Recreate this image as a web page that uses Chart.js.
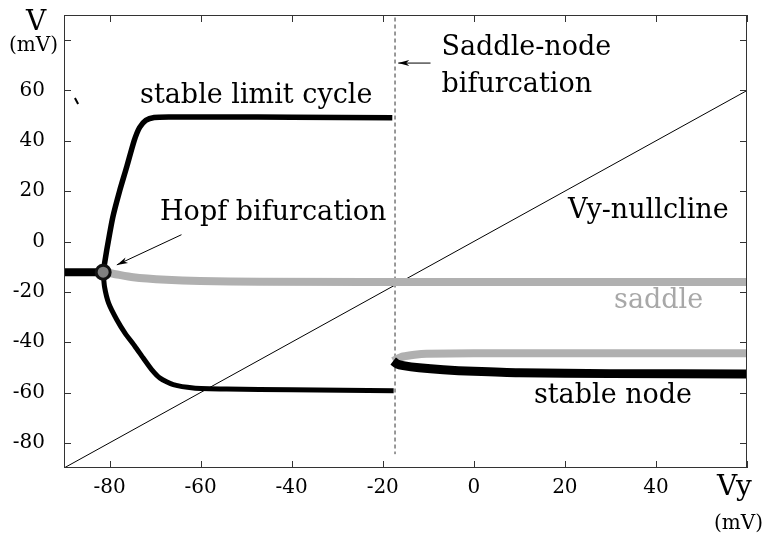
<!DOCTYPE html>
<html>
<head>
<meta charset="utf-8">
<script src="https://cdn.jsdelivr.net/npm/chart.js@4.4.1/dist/chart.umd.min.js"></script>
<style>
  body { margin: 0; background: #fff; }
  #wrap { width: 769px; height: 538px; }
</style>
</head>
<body>
<div id="wrap"><canvas id="c"></canvas></div>
<script>
// Bifurcation diagram data (Vy in mV, V in mV).
const xTicks = [-80, -60, -40, -20, 0, 20, 40, 60];
const yTicks = [-80, -60, -40, -20, 0, 20, 40, 60, 80];

const stableFocus = [[-90, -12.2], [-81.4, -12.2]];
const hopfPoint = [[-81.4, -12.2]];
const limitCycleTop = [[-81.4, -12.2], [-80.6, -3.3], [-79.3, 9.5], [-77.8, 20], [-76.2, 29.8],
  [-74.6, 40], [-73.4, 45.3], [-72, 48.2], [-70.2, 49.3], [-67, 49.5], [-55, 49.5], [-40, 49.4], [-17.9, 49.2]];
const limitCycleBottom = [[-81.4, -12.2], [-81.1, -18], [-80.2, -24.5], [-78.4, -31.1],
  [-76.6, -36.4], [-74.4, -41.7], [-72.6, -46.3], [-70.7, -51], [-68.9, -54.3], [-66, -56.9],
  [-61.6, -58.2], [-54.3, -58.6], [-40, -58.9], [-17.6, -59.3]];
const saddleUpper = [[-81.4, -12.2], [-79.2, -12.8], [-74.8, -14.2], [-67.5, -15.2], [-60.1, -15.7],
  [-47, -16], [0, -16.1], [60, -16.1]];
const saddleLower = [[-17.7, -47.5], [-16.9, -46.7], [-15.5, -45.7], [-13, -45], [-10.4, -44.6],
  [0, -44.4], [60, -44.4]];
const stableNode = [[-17.7, -47.5], [-16.9, -48.6], [-15.5, -49.3], [-12, -50.2], [-6.7, -51],
  [0, -51.6], [10, -52.2], [30, -52.5], [60, -52.6]];
const nullcline = [[-90, -90], [60, 60]];
const saddleNodeLine = [[-17.3, 89], [-17.3, -84.5]];
const strayMark = [[-87.6, 57.0], [-86.9, 54.6]];

// annotations: text, x, y (baseline, left aligned), colour
const labels = [
  ["stable limit cycle", -73.3, 55.1, "#000"],
  ["Hopf bifurcation", -68.9, 8.6, "#000"],
  ["Saddle-node", -7.1, 74.2, "#000"],
  ["bifurcation", -7.1, 59.6, "#000"],
  ["Vy-nullcline", 20.7, 9.3, "#000"],
  ["saddle", 30.8, -26.5, "#a8a8a8"],
  ["stable node", 13.2, -64.2, "#000"]
];
// arrows: from -> to (head at "to")
const arrows = [
  [[-64.2, 2.7], [-78.4, -9.3]],
  [[-9.5, 70.9], [-16.6, 70.9]]
];

const pts = a => a.map(p => ({x: p[0], y: p[1]}));
const SERIF = "'DejaVu Serif', 'Liberation Serif'";

function line(data, color, width, extra) {
  return Object.assign({
    data: pts(data), borderColor: color, borderWidth: width, pointRadius: 0,
    showLine: true, fill: false, clip: 0, tension: 0.2,
    borderCapStyle: 'butt', borderJoinStyle: 'round'
  }, extra || {});
}

const decor = {
  id: 'decor',
  afterDraw(chart) {
    const ctx = chart.ctx, a = chart.chartArea;
    const xs = chart.scales.x, ys = chart.scales.y;
    ctx.save();
    ctx.strokeStyle = '#333';
    ctx.lineWidth = 1;
    ctx.strokeRect(a.left + 0.5, a.top + 0.5, a.right - a.left - 1, a.bottom - a.top - 1);
    ctx.beginPath();
    xTicks.forEach(v => {
      const px = Math.round(xs.getPixelForValue(v)) + 0.5;
      ctx.moveTo(px, a.bottom); ctx.lineTo(px, a.bottom - 7);
      ctx.moveTo(px, a.top); ctx.lineTo(px, a.top + 7);
    });
    yTicks.forEach(v => {
      const py = Math.round(ys.getPixelForValue(v)) + 0.5;
      ctx.moveTo(a.left, py); ctx.lineTo(a.left + 7, py);
      ctx.moveTo(a.right, py); ctx.lineTo(a.right - 7, py);
    });
    ctx.stroke();

    // arrows
    ctx.strokeStyle = '#000';
    ctx.fillStyle = '#000';
    arrows.forEach(([f, t]) => {
      const x1 = xs.getPixelForValue(f[0]), y1 = ys.getPixelForValue(f[1]);
      const x2 = xs.getPixelForValue(t[0]), y2 = ys.getPixelForValue(t[1]);
      const ang = Math.atan2(y2 - y1, x2 - x1);
      ctx.beginPath(); ctx.moveTo(x1, y1); ctx.lineTo(x2, y2); ctx.stroke();
      ctx.beginPath();
      ctx.moveTo(x2, y2);
      ctx.lineTo(x2 - 11 * Math.cos(ang) + 3 * Math.sin(ang), y2 - 11 * Math.sin(ang) - 3 * Math.cos(ang));
      ctx.lineTo(x2 - 8 * Math.cos(ang), y2 - 8 * Math.sin(ang));
      ctx.lineTo(x2 - 11 * Math.cos(ang) - 3 * Math.sin(ang), y2 - 11 * Math.sin(ang) + 3 * Math.cos(ang));
      ctx.closePath(); ctx.fill();
    });

    // text labels
    ctx.textAlign = 'left';
    ctx.textBaseline = 'alphabetic';
    ctx.font = '27px ' + SERIF;
    labels.forEach(([t, x, y, c]) => {
      ctx.fillStyle = c;
      ctx.fillText(t, xs.getPixelForValue(x), ys.getPixelForValue(y));
    });

    // axis titles
    ctx.fillStyle = '#000';
    ctx.font = '28px ' + SERIF;
    ctx.fillText('V', a.left - 38, a.top + 15);
    ctx.fillText('Vy', a.right - 30, a.bottom + 27);
    ctx.font = '20px ' + SERIF;
    ctx.fillText('(mV)', a.left - 55, a.top + 36);
    ctx.fillText('(mV)', a.right - 33, a.bottom + 61);
    ctx.restore();
  }
};

const noPad = s => { s.paddingTop = 0; s.paddingBottom = 0; s.paddingLeft = 0; s.paddingRight = 0; };

new Chart(document.getElementById('c'), {
  type: 'scatter',
  data: {
    datasets: [
      Object.assign(line(hopfPoint, '#000', 3), {
        showLine: false, pointRadius: 7, pointBorderWidth: 3,
        pointBackgroundColor: '#808080', pointBorderColor: '#111', order: 0
      }),
      line(stableFocus, '#000', 8, {order: 1, tension: 0}),
      line(limitCycleTop, '#000', 5.5, {order: 2}),
      line(limitCycleBottom, '#000', 5, {order: 3}),
      line(stableNode, '#000', 9, {order: 4}),
      line(saddleUpper, '#b0b0b0', 8, {order: 5}),
      line(saddleLower, '#b0b0b0', 8, {order: 6}),
      line(nullcline, '#000', 1, {order: 7, tension: 0}),
      line(saddleNodeLine, '#333', 1, {order: 8, borderDash: [4, 3], tension: 0}),
      line(strayMark, '#000', 2, {order: 9, tension: 0})
    ]
  },
  options: {
    responsive: true,
    maintainAspectRatio: false,
    animation: false,
    layout: {padding: {left: 0, right: 22, top: 15, bottom: 0}},
    plugins: {legend: {display: false}, tooltip: {enabled: false}},
    scales: {
      x: {
        type: 'linear', min: -90, max: 60,
        grid: {display: false}, border: {display: false},
        afterBuildTicks: s => { s.ticks = xTicks.map(v => ({value: v})); },
        afterFit: s => { s.height = 70; noPad(s); },
        ticks: {
          color: '#000', padding: 0, maxRotation: 0, autoSkip: false,
          font: {family: SERIF, size: 20},
          callback: v => v === 60 ? '' : String(v)
        }
      },
      y: {
        type: 'linear', min: -90, max: 90,
        grid: {display: false}, border: {display: false},
        afterBuildTicks: s => { s.ticks = yTicks.map(v => ({value: v})); },
        afterFit: s => { s.width = 64; noPad(s); },
        ticks: {
          color: '#000', padding: 11, autoSkip: false,
          font: {family: SERIF, size: 20},
          callback: v => v === 80 ? '' : String(v)
        }
      }
    }
  },
  plugins: [decor]
});
</script>
</body>
</html>
